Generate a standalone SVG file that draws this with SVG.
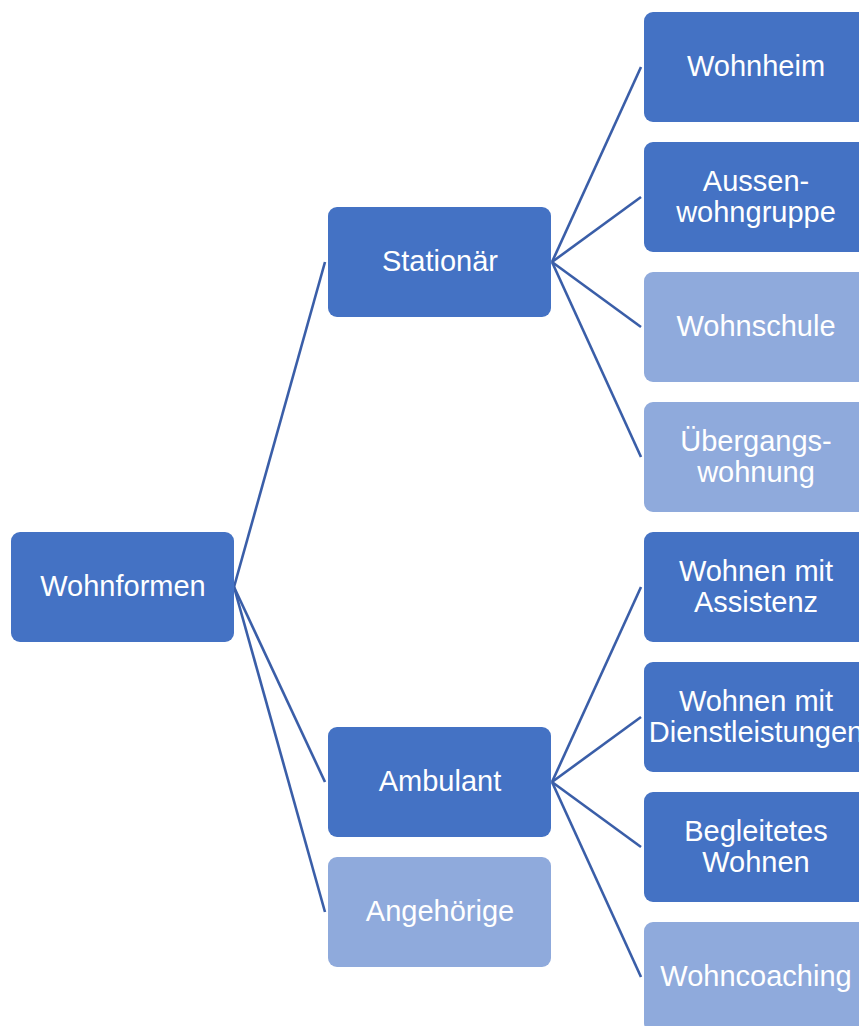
<svg xmlns="http://www.w3.org/2000/svg" width="859" height="1026" viewBox="0 0 859 1026">
<style>
.d{fill:#4472C4}
.l{fill:#8FAADC}
rect{rx:9;ry:9}
text{font-family:"Liberation Sans",Arial,sans-serif;font-size:29px;fill:#fff;text-anchor:middle}
.c line{stroke:#3A5EA8;stroke-width:2.6}
</style>
<g class="c" id="connectors">
<line x1="234" y1="587" x2="325" y2="262"/>
<line x1="234" y1="587" x2="325" y2="782"/>
<line x1="234" y1="587" x2="325" y2="912"/>
<line x1="552" y1="262" x2="641" y2="67"/>
<line x1="552" y1="262" x2="641" y2="197"/>
<line x1="552" y1="262" x2="641" y2="327"/>
<line x1="552" y1="262" x2="641" y2="457"/>
<line x1="552" y1="782" x2="641" y2="587"/>
<line x1="552" y1="782" x2="641" y2="717"/>
<line x1="552" y1="782" x2="641" y2="847"/>
<line x1="552" y1="782" x2="641" y2="977"/>
</g>
<g id="wohnformen"><rect class="d" x="11" y="532" width="223" height="110"/><text x="123" y="596">Wohnformen</text></g>
<g id="stationaer"><rect class="d" x="328" y="207" width="223" height="110"/><text x="440" y="271">Stationär</text></g>
<g id="ambulant"><rect class="d" x="328" y="727" width="223" height="110"/><text x="440" y="791">Ambulant</text></g>
<g id="angehoerige"><rect class="l" x="328" y="857" width="223" height="110"/><text x="440" y="921">Angehörige</text></g>
<g id="wohnheim"><rect class="d" x="644" y="12" width="223" height="110"/><text x="756" y="76">Wohnheim</text></g>
<g id="aussenwohngruppe"><rect class="d" x="644" y="142" width="223" height="110"/><text x="756" y="191">Aussen-</text><text x="756" y="222">wohngruppe</text></g>
<g id="wohnschule"><rect class="l" x="644" y="272" width="223" height="110"/><text x="756" y="336">Wohnschule</text></g>
<g id="uebergangswohnung"><rect class="l" x="644" y="402" width="223" height="110"/><text x="756" y="451">Übergangs-</text><text x="756" y="482">wohnung</text></g>
<g id="assistenz"><rect class="d" x="644" y="532" width="223" height="110"/><text x="756" y="581">Wohnen mit</text><text x="756" y="612">Assistenz</text></g>
<g id="dienstleistungen"><rect class="d" x="644" y="662" width="223" height="110"/><text x="756" y="711">Wohnen mit</text><text x="756" y="742">Dienstleistungen</text></g>
<g id="begleitetes"><rect class="d" x="644" y="792" width="223" height="110"/><text x="756" y="841">Begleitetes</text><text x="756" y="872">Wohnen</text></g>
<g id="wohncoaching"><rect class="l" x="644" y="922" width="223" height="110"/><text x="756" y="986">Wohncoaching</text></g>
</svg>
